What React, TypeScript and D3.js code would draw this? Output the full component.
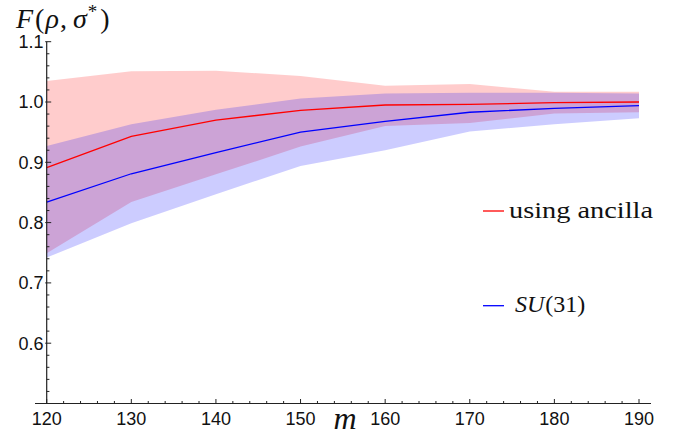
import React from "react";
import * as d3 from "d3";

const mValues = [120, 130, 140, 150, 160, 170, 180, 190];
const ancillaMean = [0.891, 0.943, 0.970, 0.986, 0.995, 0.996, 0.999, 1.0];
const ancillaUpper = [1.035, 1.051, 1.052, 1.043, 1.027, 1.030, 1.017, 1.017];
const ancillaLower = [0.749, 0.834, 0.880, 0.926, 0.960, 0.965, 0.981, 0.983];
const suMean = [0.834, 0.881, 0.916, 0.950, 0.968, 0.983, 0.9895, 0.994];
const suUpper = [0.927, 0.963, 0.987, 1.006, 1.014, 1.0155, 1.0155, 1.014];
const suLower = [0.742, 0.799, 0.847, 0.894, 0.920, 0.951, 0.963, 0.973];
const xTicks = [120, 130, 140, 150, 160, 170, 180, 190];
const yTicks = [0.6, 0.7, 0.8, 0.9, 1.0, 1.1];

const W = 678;
const H = 435;
const SANS = "'Liberation Sans', Arial, Helvetica, sans-serif";
const SERIF = "'Liberation Serif', 'Times New Roman', Times, serif";

export default function App() {
  const x = d3.scaleLinear().domain([120, 190]).range([46.7, 639]);
  const y = d3.scaleLinear().domain([0.5, 1.1]).range([403.5, 41.7]);

  const rows = (lo: number[], hi: number[]) =>
    mValues.map((m, i) => ({ m, lo: lo[i], hi: hi[i] }));
  const area = d3
    .area<{ m: number; lo: number; hi: number }>()
    .x((d) => x(d.m))
    .y0((d) => y(d.lo))
    .y1((d) => y(d.hi));
  const line = d3
    .line<{ m: number; v: number }>()
    .x((d) => x(d.m))
    .y((d) => y(d.v));
  const pts = (v: number[]) => mValues.map((m, i) => ({ m, v: v[i] }));

  const xMinor = d3.range(120, 191, 2).filter((v) => v % 10 !== 0);
  const yMinor = d3
    .range(0.5, 1.1001, 0.02)
    .map((v) => +v.toFixed(2))
    .filter((v) => Math.abs(Math.round(v * 10) - v * 10) > 1e-6);

  const axisColor = "#222";
  const x0 = x(120);
  const yBase = y(0.5);

  return (
    <svg
      width={W}
      height={H}
      style={{ position: "absolute", left: 0, top: 0, background: "#fff" }}
    >
      <path d={area(rows(ancillaLower, ancillaUpper)) || ""} fill="#ff0000" fillOpacity={0.2} />
      <path d={area(rows(suLower, suUpper)) || ""} fill="#0000ff" fillOpacity={0.2} />
      <path d={line(pts(ancillaMean)) || ""} fill="none" stroke="#ff0000" strokeWidth={1.3} />
      <path d={line(pts(suMean)) || ""} fill="none" stroke="#0000ff" strokeWidth={1.3} />

      {/* axes */}
      <line x1={35} x2={651} y1={yBase} y2={yBase} stroke={axisColor} strokeWidth={1} />
      <line x1={x0} x2={x0} y1={y(1.1)} y2={yBase} stroke={axisColor} strokeWidth={1.2} />

      {xTicks.map((t) => (
        <g key={"xt" + t}>
          <line x1={x(t)} x2={x(t)} y1={yBase} y2={yBase - 4.5} stroke={axisColor} />
          <text x={x(t)} y={425} textAnchor="middle" fontFamily={SANS} fontSize={18} fill="#111">
            {t}
          </text>
        </g>
      ))}
      {xMinor.map((t) => (
        <line key={"xm" + t} x1={x(t)} x2={x(t)} y1={yBase} y2={yBase - 2.5} stroke={axisColor} />
      ))}
      {yTicks.map((t) => (
        <g key={"yt" + t}>
          <line x1={x0 - 1.5} x2={x0 + 4.5} y1={y(t)} y2={y(t)} stroke={axisColor} />
          <text x={43.5} y={y(t) + 6.3} textAnchor="end" fontFamily={SANS} fontSize={18} fill="#111">
            {t.toFixed(1)}
          </text>
        </g>
      ))}
      {yMinor.map((t) => (
        <line key={"ym" + t} x1={x0} x2={x0 + 2.7} y1={y(t)} y2={y(t)} stroke={axisColor} />
      ))}

      {/* axis titles */}
      <text x={16} y={28} fontFamily={SERIF} fontSize={28} fill="#111">
        <tspan fontStyle="italic">F</tspan>
        <tspan dx={2}>(</tspan>
        <tspan dx={1} fontStyle="italic">ρ</tspan>
        <tspan dx={1}>,</tspan>
        <tspan dx={6} fontStyle="italic">σ</tspan>
        <tspan dx={1} dy={-10} fontSize={19}>*</tspan>
        <tspan dx={3} dy={10}>)</tspan>
      </text>
      <text
        x={345}
        y={429}
        textAnchor="middle"
        fontFamily={SERIF}
        fontStyle="italic"
        fontSize={32}
        fill="#111"
      >
        m
      </text>

      {/* legend */}
      <line x1={483} x2={504} y1={211} y2={211} stroke="#ff0000" strokeWidth={1.3} />
      <text
        x={509}
        y={218}
        fontFamily={SERIF}
        fontSize={24}
        textLength={144}
        lengthAdjust="spacingAndGlyphs"
        fill="#111"
      >
        using ancilla
      </text>
      <line x1={483} x2={504} y1={305.7} y2={305.7} stroke="#0000ff" strokeWidth={1.3} />
      <text x={515} y={312} fontFamily={SERIF} fontSize={24} fill="#111">
        <tspan fontStyle="italic">SU</tspan>
        <tspan dx={1}>(31)</tspan>
      </text>
    </svg>
  );
}
